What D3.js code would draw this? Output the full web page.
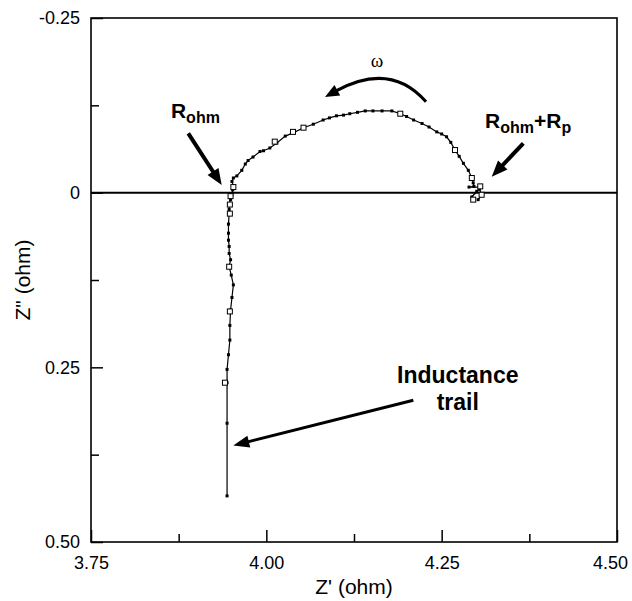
<!DOCTYPE html>
<html>
<head>
<meta charset="utf-8">
<script src="https://cdn.jsdelivr.net/npm/d3@7"></script>
<style>
  body { margin: 0; background: #fff; }
  svg { font-family: "Liberation Sans", Arial, Helvetica, sans-serif; }
  .tick text { font-size: 18px; fill: #000; }
  .tick line { stroke: #000; stroke-width: 1.5; }
  .note { font-weight: bold; font-size: 21px; }
  .sub { font-size: 16px; }
</style>
</head>
<body>
<div id="chart"></div>
<script>
// Nyquist plot data, read off the picture (Z' real part, Z'' imaginary part, ohm)
// ordered from low frequency (right end of the arc) to high frequency (bottom of the trail)
const zRe = [4.302, 4.307, 4.304, 4.293, 4.300, 4.306, 4.289, 4.296, 4.295, 4.293,
    4.288, 4.281, 4.275, 4.269, 4.263, 4.257, 4.250, 4.243, 4.232, 4.222,
    4.210, 4.200, 4.191, 4.179, 4.165, 4.152, 4.141, 4.130, 4.119, 4.110,
    4.100, 4.090, 4.081, 4.067, 4.053, 4.039, 4.027, 4.015, 4.005, 3.996,
    3.991, 3.981, 3.974, 3.970, 3.965, 3.958, 3.953, 3.951, 3.953, 3.952,
    3.951, 3.949, 3.947, 3.947, 3.947, 3.946, 3.946, 3.946, 3.947,
    3.947, 3.949, 3.947, 3.950, 3.953, 3.951, 3.949, 3.948, 3.948, 3.946,
    3.944, 3.944, 3.944, 3.944];
const zIm = [0.010, 0.004, -0.005, 0.006, -0.002, -0.008, -0.008, -0.009, -0.014, -0.021,
    -0.032, -0.042, -0.052, -0.061, -0.072, -0.080, -0.084, -0.087, -0.094, -0.099,
    -0.104, -0.109, -0.113, -0.117, -0.117, -0.117, -0.117, -0.115, -0.113, -0.111,
    -0.110, -0.107, -0.104, -0.098, -0.093, -0.086, -0.081, -0.071, -0.064, -0.060,
    -0.059, -0.051, -0.046, -0.041, -0.032, -0.024, -0.021, -0.016, -0.009, -0.004,
    0.003, 0.010, 0.016, 0.024, 0.030, 0.045, 0.058, 0.068, 0.077,
    0.087, 0.096, 0.106, 0.118, 0.132, 0.150, 0.168, 0.190, 0.211, 0.232,
    0.253, 0.272, 0.330, 0.434];

// points drawn with open squares
const openRe = [4.305, 4.307, 4.295, 4.293, 4.269, 4.191, 4.053, 4.038, 4.012,
    3.953, 3.949, 3.948, 3.948, 3.947, 3.948, 3.941];
const openIm = [-0.009, 0.003, 0.010, -0.021, -0.061, -0.113, -0.093, -0.087, -0.073,
    -0.008, 0.005, 0.017, 0.030, 0.106, 0.170, 0.272];

const xTicks = [3.75, 4.00, 4.25, 4.50];
const xTickLabels = ['3.75', '4.00', '4.25', '4.50'];
const xMinor = [3.875, 4.125, 4.375];
const yTicks = [-0.25, 0, 0.25, 0.50];
const yTickLabels = ['-0.25', '0', '0.25', '0.50'];
const yMinor = [-0.125, 0.125, 0.375];

const W = 632, H = 601;
const margin = {top: 18, right: 15, bottom: 59, left: 91};
const width = W - margin.left - margin.right;
const height = H - margin.top - margin.bottom;

const svg = d3.select('#chart').append('svg')
    .attr('width', W)
    .attr('height', H);

const g = svg.append('g')
    .attr('transform', `translate(${margin.left},${margin.top})`);

const x = d3.scaleLinear().domain([3.75, 4.50]).range([0, width]);
// Z'' axis runs downward: negative values on top
const y = d3.scaleLinear().domain([-0.25, 0.50]).range([0, height]);

// axes, ticks pointing inward
g.append('g')
    .attr('transform', `translate(0,${height})`)
    .call(d3.axisBottom(x).tickValues(xTicks).tickFormat((d, i) => xTickLabels[i])
        .tickSizeInner(-12).tickSizeOuter(0).tickPadding(14))
    .call(a => a.select('.domain').remove())
    .call(a => a.selectAll('.tick:last-of-type text').attr('dx', -7));
g.append('g')
    .attr('transform', `translate(0,${height})`)
    .call(d3.axisBottom(x).tickValues(xMinor).tickFormat('').tickSizeInner(-8).tickSizeOuter(0))
    .call(a => a.select('.domain').remove());
g.append('g')
    .call(d3.axisLeft(y).tickValues(yTicks).tickFormat((d, i) => yTickLabels[i])
        .tickSizeInner(-12).tickSizeOuter(0).tickPadding(11))
    .call(a => a.select('.domain').remove());
g.append('g')
    .call(d3.axisLeft(y).tickValues(yMinor).tickFormat('').tickSizeInner(-8).tickSizeOuter(0))
    .call(a => a.select('.domain').remove());

// frame
g.append('rect')
    .attr('width', width)
    .attr('height', height)
    .attr('fill', 'none')
    .attr('stroke', '#000')
    .attr('stroke-width', 1.6);

// zero line
g.append('line')
    .attr('x1', 0).attr('x2', width)
    .attr('y1', y(0)).attr('y2', y(0))
    .attr('stroke', '#000')
    .attr('stroke-width', 2);

// axis titles
svg.append('text')
    .attr('x', margin.left + width / 2)
    .attr('y', 594)
    .attr('text-anchor', 'middle')
    .style('font-size', '21px')
    .text("Z' (ohm)");
svg.append('text')
    .attr('transform', `translate(30,${margin.top + y(0.125)}) rotate(-90)`)
    .attr('text-anchor', 'middle')
    .style('font-size', '21px')
    .text('Z" (ohm)');

// data
const pts = zRe.map((d, i) => [d, zIm[i]]);
const openPts = openRe.map((d, i) => [d, openIm[i]]);

const line = d3.line()
    .x(d => x(d[0]))
    .y(d => y(d[1]));

g.append('path')
    .datum(pts)
    .attr('d', line)
    .attr('fill', 'none')
    .attr('stroke', '#000')
    .attr('stroke-width', 1.2);

g.selectAll('.dot')
    .data(pts)
    .enter().append('rect')
    .attr('class', 'dot')
    .attr('x', d => x(d[0]) - 1.5)
    .attr('y', d => y(d[1]) - 1.5)
    .attr('width', 3)
    .attr('height', 3)
    .attr('fill', '#000');

g.selectAll('.sq')
    .data(openPts)
    .enter().append('rect')
    .attr('class', 'sq')
    .attr('x', d => x(d[0]) - 2.5)
    .attr('y', d => y(d[1]) - 2.5)
    .attr('width', 5)
    .attr('height', 5)
    .attr('fill', '#fff')
    .attr('stroke', '#000')
    .attr('stroke-width', 1);

// arrow: line plus filled head, from p0 to tip p1 (data coords)
function arrow(p0, p1, lw, len, wid) {
    const x0 = x(p0[0]), y0 = y(p0[1]), x1 = x(p1[0]), y1 = y(p1[1]);
    const dx = x1 - x0, dy = y1 - y0, L = Math.hypot(dx, dy);
    const ux = dx / L, uy = dy / L;
    const bx = x1 - ux * len, by = y1 - uy * len;
    g.append('line')
        .attr('x1', x0).attr('y1', y0)
        .attr('x2', bx + ux * 2).attr('y2', by + uy * 2)
        .attr('stroke', '#000')
        .attr('stroke-width', lw);
    g.append('path')
        .attr('d', `M${x1},${y1}L${bx - uy * wid / 2},${by + ux * wid / 2}L${bx + uy * wid / 2},${by - ux * wid / 2}Z`)
        .attr('fill', '#000');
}

// R_ohm
const rOhm = g.append('text').attr('class', 'note')
    .attr('x', x(3.8640)).attr('y', y(-0.1067));
rOhm.append('tspan').text('R');
rOhm.append('tspan').attr('class', 'sub').attr('dy', 5).text('ohm');
arrow([3.8887, -0.0849], [3.9364, -0.011], 4, 16, 13);

// R_ohm + R_p
const rP = g.append('text').attr('class', 'note')
    .attr('x', x(4.3118)).attr('y', y(-0.0924));
rP.append('tspan').text('R');
rP.append('tspan').attr('class', 'sub').attr('dy', 5).text('ohm');
rP.append('tspan').attr('dy', -5).text('+R');
rP.append('tspan').attr('class', 'sub').attr('dy', 5).text('p');
arrow([4.3664, -0.0706], [4.3214, -0.0229], 4, 16, 13);

// omega curved arrow
g.append('text')
    .attr('x', x(4.1578)).attr('y', y(-0.1796))
    .attr('text-anchor', 'middle')
    .style('font-family', '"Liberation Serif", "DejaVu Serif", serif')
    .style('font-size', '19px')
    .text('ω');
{
    const P0 = [x(4.2277), y(-0.130)], C = [x(4.1772), y(-0.1884)], P2 = [x(4.0837), y(-0.1371)];
    const dx = P2[0] - C[0], dy = P2[1] - C[1], L = Math.hypot(dx, dy);
    const ux = dx / L, uy = dy / L, len = 14, wid = 12;
    const bx = P2[0] - ux * len, by = P2[1] - uy * len;
    g.append('path')
        .attr('d', `M${P0[0]},${P0[1]}Q${C[0]},${C[1]} ${bx + ux * 2},${by + uy * 2}`)
        .attr('fill', 'none')
        .attr('stroke', '#000')
        .attr('stroke-width', 3);
    g.append('path')
        .attr('d', `M${P2[0]},${P2[1]}L${bx - uy * wid / 2},${by + ux * wid / 2}L${bx + uy * wid / 2},${by - ux * wid / 2}Z`)
        .attr('fill', '#000');
}

// inductance trail
g.append('text').attr('class', 'note')
    .attr('x', x(4.273)).attr('y', y(0.2719))
    .attr('text-anchor', 'middle')
    .style('font-size', '23px')
    .text('Inductance');
g.append('text').attr('class', 'note')
    .attr('x', x(4.273)).attr('y', y(0.311))
    .attr('text-anchor', 'middle')
    .style('font-size', '23px')
    .text('trail');
arrow([4.2096, 0.2971], [3.9529, 0.3619], 3, 16, 12);
</script>
</body>
</html>
